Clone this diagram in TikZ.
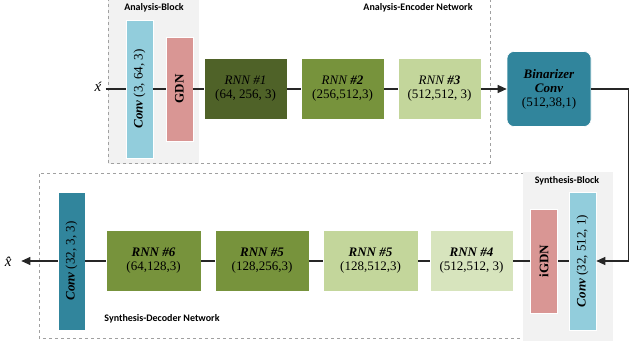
\documentclass[tikz,border=0pt]{standalone}
\usepackage{fontspec}
\setmainfont{Liberation Serif}
\newfontfamily\labfont{Carlito}
\usetikzlibrary{arrows.meta}
\definecolor{convblue}{HTML}{92CDDC}
\definecolor{gdnred}{HTML}{D99694}
\definecolor{rnnA}{HTML}{4F6228}
\definecolor{rnnB}{HTML}{77933C}
\definecolor{rnnC}{HTML}{C3D69B}
\definecolor{rnnD}{HTML}{D7E4BD}
\definecolor{teal}{HTML}{31859C}
\definecolor{blockgrey}{HTML}{F2F2F2}
\definecolor{dashgrey}{HTML}{A0A0A0}
\tikzset{
  box/.style={draw=white, line width=0.6pt, inner sep=0pt, align=center, font=\fontsize{13}{14}\selectfont},
  vbox/.style={box, rotate=90, minimum width=138pt, minimum height=27pt},
  rnnbox/.style={box, minimum height=61pt},
  conn/.style={line width=1.1pt, draw=black!85},
  arr/.style={conn, -{Triangle[length=9pt,width=8pt]}},
  frame/.style={draw=dashgrey, dashed, line width=0.6pt},
  lab/.style={font=\labfont\bfseries\fontsize{10}{12}\selectfont, inner sep=0pt},
  xlab/.style={font=\fontsize{15}{16}\selectfont, inner sep=4pt}
}
\begin{document}
\begin{tikzpicture}[x=1pt,y=-1pt]
\useasboundingbox (0,0) rectangle (629,347);
% grey blocks and frames
\fill[blockgrey] (108,0) rectangle (199,164);
\draw[frame] (108,-2) -- (108,163) -- (490,163) -- (490,-2);
\draw[frame] (560,173) -- (39,173) -- (39,338) -- (560,338);
\fill[blockgrey] (523,172) rectangle (613,341);
\node[lab] (lA) at (154,8) {Analysis-Block};
\node[lab] (lE) at (418,8) {Analysis-Encoder Network};
\node[lab] (lS) at (567,181) {Synthesis-Block};
\node[lab] (lD) at (162,319) {Synthesis-Decoder Network};
% top row
\node[xlab] (xin) at (98,87) {\textit{\'x}};
\node[vbox, fill=convblue] (conv1) at (139.5,89) {\textbf{\textit{Conv}} (3, 64, 3)};
\node[vbox, fill=gdnred, minimum width=104pt] (gdn) at (179.5,89) {\textbf{GDN}};
\node[rnnbox, fill=rnnA, minimum width=83pt] (rnn1) at (245.5,89) {\textit{RNN \#1}\\(64, 256, 3)};
\node[rnnbox, fill=rnnB, minimum width=83pt] (rnn2) at (342.5,89) {\textit{RNN \textbf{\#2}}\\(256,512,3)};
\node[rnnbox, fill=rnnC, minimum width=83pt] (rnn3) at (439.5,89) {\textit{RNN \textbf{\#3}}\\(512,512, 3)};
\node[box, fill=teal, rounded corners=7pt, minimum width=84pt, minimum height=75pt] (bin) at (549,89) {\textbf{\textit{Binarizer}}\\\textbf{\textit{Conv}}\\(512,38,1)};
\coordinate (rt) at (628.5,89);
\coordinate (rb) at (628.5,261);
% bottom row
\node[vbox, fill=convblue] (conv2) at (582.5,261) {\textbf{\textit{Conv}} (32, 512, 1)};
\node[vbox, fill=gdnred, minimum width=104pt] (igdn) at (544,261) {\textbf{iGDN}};
\node[rnnbox, fill=rnnD, minimum width=83pt] (rnn4) at (471.5,261) {\textbf{\textit{RNN \#4}}\\(512,512, 3)};
\node[rnnbox, fill=rnnC, minimum width=95pt] (rnn5b) at (370.5,261) {\textbf{\textit{RNN \#5}}\\(128,512,3)};
\node[rnnbox, fill=rnnB, minimum width=94pt] (rnn5a) at (262,261) {\textbf{\textit{RNN \#5}}\\(128,256,3)};
\node[rnnbox, fill=rnnB, minimum width=95pt] (rnn6) at (153.5,261) {\textbf{\textit{RNN \#6}}\\(64,128,3)};
\node[vbox, fill=teal] (conv3) at (71.5,261) {\textbf{\textit{Conv}} (32, 3, 3)};
\node[xlab] (xout) at (11,262) {\textit{\^x}};
% connectors
\draw[conn] (xin.east |- conv1) -- (conv1);
\draw[conn] (conv1) -- (gdn);
\draw[conn] (gdn) -- (rnn1);
\draw[conn] (rnn1) -- (rnn2);
\draw[conn] (rnn2) -- (rnn3);
\draw[arr] (rnn3) -- (bin);
\draw[conn] (bin) -- (rt) -- (rb);
\draw[arr] (rb) -- (conv2);
\draw[conn] (conv2) -- (igdn);
\draw[conn] (igdn) -- (rnn4);
\draw[conn] (rnn4) -- (rnn5b);
\draw[conn] (rnn5b) -- (rnn5a);
\draw[conn] (rnn5a) -- (rnn6);
\draw[conn] (rnn6) -- (conv3);
\draw[arr] (conv3) -- (xout.east |- conv3);
\end{tikzpicture}
\end{document}
